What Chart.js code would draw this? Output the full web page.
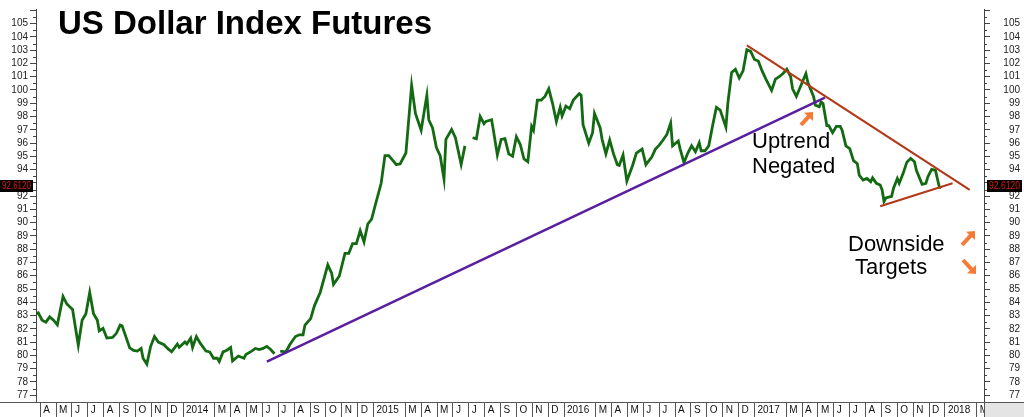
<!DOCTYPE html>
<html>
<head>
<meta charset="utf-8">
<script src="https://cdn.jsdelivr.net/npm/chart.js@4.4.1/dist/chart.umd.min.js"></script>
<style>
  html, body { margin: 0; padding: 0; background: #fff; }
  #wrap { width: 1024px; height: 417px; position: relative; }
</style>
</head>
<body>
<div id="wrap"><canvas id="dxChart"></canvas></div>
<script>
// weekly-ish closes, x as decimal year (null = gap in the feed)
const dates = [
  2013.23, 2013.24, 2013.26, 2013.28, 2013.30, 2013.32, 2013.34, 2013.37, 2013.39, 2013.42,
  2013.45, 2013.47, 2013.49, 2013.51, 2013.53, 2013.55, 2013.56, 2013.58, 2013.60, 2013.63,
  2013.65, 2013.67, 2013.68, 2013.72, 2013.74, 2013.76, 2013.78, 2013.79, 2013.81, 2013.83,
  2013.85, 2013.87, 2013.90, 2013.92, 2013.94, 2013.97, 2013.98, 2014.01, 2014.02, 2014.04,
  2014.05, 2014.07, 2014.09, 2014.12, 2014.14, 2014.16, 2014.18, 2014.19, 2014.21, 2014.23,
  2014.25, 2014.26, 2014.29, 2014.32, 2014.33, 2014.36, 2014.38, 2014.40, 2014.42, 2014.44,
  2014.46, 2014.48, 2014.495, 2014.51, 2014.54, 2014.56, 2014.59, 2014.61, 2014.63, 2014.64,
  2014.67, 2014.69, 2014.72, 2014.76, 2014.78, 2014.79, 2014.82, 2014.85, 2014.87, 2014.89,
  2014.91, 2014.93, 2014.95, 2014.97, 2014.99, 2015.01, 2015.04, 2015.06, 2015.08, 2015.12,
  2015.14, 2015.17, 2015.20, 2015.22, 2015.25, 2015.28, 2015.29, 2015.31, 2015.33, 2015.35,
  2015.37, 2015.38, 2015.41, 2015.43, 2015.46, 2015.48, 2015.50, 2015.52, 2015.54, 2015.56,
  2015.58, 2015.59, 2015.62, 2015.63, 2015.65, 2015.67, 2015.69, 2015.71, 2015.73, 2015.75,
  2015.77, 2015.79, 2015.81, 2015.83, 2015.84, 2015.86, 2015.88, 2015.90, 2015.92, 2015.94,
  2015.96, 2015.98, 2015.99, 2016.01, 2016.03, 2016.05, 2016.08, 2016.09, 2016.10, 2016.13,
  2016.15, 2016.16, 2016.19, 2016.20, 2016.22, 2016.24, 2016.26, 2016.28, 2016.29, 2016.31,
  2016.33, 2016.36, 2016.38, 2016.41, 2016.43, 2016.44, 2016.46, 2016.48, 2016.50, 2016.52,
  2016.54, 2016.56, 2016.57, 2016.60, 2016.61, 2016.63, 2016.65, 2016.67, 2016.69, 2016.71,
  2016.72, 2016.74, 2016.76, 2016.78, 2016.80, 2016.82, 2016.85, 2016.86, 2016.88, 2016.90,
  2016.92, 2016.94, 2016.96, 2016.98, 2017.00, 2017.02, 2017.04, 2017.06, 2017.09, 2017.11,
  2017.13, 2017.15, 2017.17, 2017.19, 2017.20, 2017.22, 2017.24, 2017.27, 2017.28, 2017.31,
  2017.32, 2017.34, 2017.35, 2017.36, 2017.38, 2017.39, 2017.41, 2017.43, 2017.45, 2017.46,
  2017.48, 2017.50, 2017.52, 2017.54, 2017.55, 2017.57, 2017.59, 2017.61, 2017.62, 2017.64,
  2017.66, 2017.67, 2017.68, 2017.69, 2017.72, 2017.73, 2017.75, 2017.76, 2017.78, 2017.80,
  2017.82, 2017.84, 2017.85, 2017.88, 2017.90, 2017.91, 2017.93, 2017.95, 2017.96, 2017.97,
  2017.98
];
const prices = [
  83.14, 83.2, 82.65, 82.5, 82.9, 82.65, 82.3, 84.44, 83.87, 83.46,
  80.76, 82.65, 83.14, 84.74, 83.14, 82.65, 81.84, 82.03, 81.3, 81.35,
  81.66, 82.28, 82.23, 80.56, 80.37, 80.32, 80.52, 79.78, 79.34, 80.68,
  81.42, 81.0, 80.8, 80.5, 80.27, 80.85, 80.6, 81.0, 80.85, 81.3,
  80.6, 81.42, 80.92, 80.32, 80.26, 79.78, 79.78, 79.53, 80.26, 80.39,
  80.6, 79.58, 79.95, 79.78, 80.07, 80.32, 80.52, 80.44, 80.52, 80.68,
  80.44, 80.12, null, 80.32, 80.26, 80.8, 81.42, 81.55, 81.55, 82.28,
  82.77, 83.75, 84.74, 86.82, 86.2, 85.35, 85.96, 87.68, 87.68, 88.42,
  88.42, 89.4, 88.55, 89.9, 90.26, 91.37, 92.97, 95.05, 95.05, 94.37,
  94.44, 95.25, 100.34, 98.24, 96.97, 99.6, 97.76, 97.14, 95.66, 95.05,
  93.28, 96.28, 97.02, 96.4, 94.39, 95.79, null, 96.4, 96.33, 98.0,
  97.46, 97.63, 97.76, 96.9, 95.1, 96.28, 96.33, 95.18, 95.0, 96.48,
  95.91, 94.8, 94.6, 97.26, 96.97, 99.23, 99.23, 99.52, 100.09, 98.98,
  97.63, 98.69, 98.05, 98.78, 98.6, 99.27, 99.72, 99.6, 97.39, 95.99,
  96.78, 98.24, 97.14, 96.28, 95.18, 96.23, 95.18, 94.37, 94.31, 95.1,
  93.14, 94.31, 95.25, 95.55, 94.37, 94.56, 94.93, 95.55, 95.84, 96.23,
  96.65, 97.51, 95.79, 96.16, 95.55, 94.52, 95.25, 95.79, 95.35, 96.03,
  95.42, 95.42, 95.79, 97.3, 98.69, 98.49, 97.21, 98.98, 101.32, 101.56,
  100.9, 101.44, 103.03, 102.91, 102.3, 102.18, 101.44, 100.82, 99.97, 100.82,
  101.0, 101.24, 101.56, 101.0, 100.09, 99.52, 100.21, 101.24, 100.58, 99.52,
  98.86, 98.74, 99.1, 98.98, 97.31, 97.31, 96.78, 97.26, 97.26, 96.97,
  95.79, 95.59, 94.68, 94.44, 93.58, 93.21, 93.33, 93.09, 93.38, 92.97,
  92.84, 92.47, 91.61, 91.86, 91.98, 92.6, 93.33, 92.97, 93.7, 94.56,
  94.85, 94.6, 93.95, 92.89, 92.97, 93.45, 94.02, 93.95, 93.33, 92.71,
  92.61
];

// drawn trendlines
const uptrendDates = [2014.44, 2017.37];
const uptrendValues = [79.53, 99.42];
const upperDates = [2016.96, 2018.13];
const upperValues = [103.36, 92.47];
const lowerDates = [2017.66, 2018.04];
const lowerValues = [91.24, 92.97];

const lastPrice = 92.612;
const lastPriceLabel = '92.6120';

const yTicks = [77, 78, 79, 80, 81, 82, 83, 84, 85, 86, 87, 88, 89, 90, 91,
  92, 93, 94, 95, 96, 97, 98, 99, 100, 101, 102, 103, 104, 105, 106];
const monthLetters = ['J', 'F', 'M', 'A', 'M', 'J', 'J', 'A', 'S', 'O', 'N', 'D'];
const years = [2013, 2014, 2015, 2016, 2017, 2018];

const xMin = 2013.228, xMax = 2018.205;
const yMin = 76.484, yMax = 106.105;

// month boundaries for the date strip (feb has no box)
const monthTicks = [];
years.forEach(yr => {
  for (let m = 0; m < 12; m++) {
    const v = yr + m / 12;
    if (m !== 1 && v >= xMin && v <= xMax) monthTicks.push(v);
  }
});

const FONT = "'Liberation Sans', Arial, sans-serif";

function pair(xs, ys) {
  return xs.map((d, i) => ({ x: d, y: ys[i] }));
}

// hide the tick label sitting under the price tag, and the clipped top one
function priceLabel(v) {
  if (v > 105) return '';
  if (v > lastPrice && v - lastPrice < 0.6) return '';
  return String(v);
}

function arrow(ctx, x0, y0, x1, y1) {
  const ang = Math.atan2(y1 - y0, x1 - x0);
  const head = 9;
  ctx.strokeStyle = '#f47a36';
  ctx.fillStyle = '#f47a36';
  ctx.lineWidth = 4;
  ctx.lineCap = 'butt';
  ctx.beginPath();
  ctx.moveTo(x0, y0);
  ctx.lineTo(x1 - Math.cos(ang) * head * 0.6, y1 - Math.sin(ang) * head * 0.6);
  ctx.stroke();
  ctx.beginPath();
  ctx.moveTo(x1, y1);
  ctx.lineTo(x1 - head * Math.cos(ang - 0.75), y1 - head * Math.sin(ang - 0.75));
  ctx.lineTo(x1 - head * Math.cos(ang + 0.75), y1 - head * Math.sin(ang + 0.75));
  ctx.closePath();
  ctx.fill();
}

const overlay = {
  id: 'overlay',
  afterDraw(chart) {
    const { ctx, chartArea: a } = chart;
    const y = chart.scales.y;
    ctx.save();

    // half-point ticks
    ctx.strokeStyle = '#444';
    ctx.lineWidth = 1;
    ctx.beginPath();
    for (let v = 76.5; v < yMax; v += 1) {
      const py = Math.round(y.getPixelForValue(v)) + 0.5;
      ctx.moveTo(a.left - 3, py); ctx.lineTo(a.left, py);
      ctx.moveTo(a.right, py); ctx.lineTo(a.right + 3, py);
    }
    ctx.stroke();

    // date strip frame
    ctx.fillStyle = '#e4e4e4';
    ctx.fillRect(a.right + 1, a.bottom + 1, chart.width - a.right, chart.height - a.bottom);
    ctx.strokeStyle = '#555';
    ctx.beginPath();
    ctx.moveTo(0, a.bottom + 0.5); ctx.lineTo(chart.width, a.bottom + 0.5);
    ctx.moveTo(a.right + 0.5, a.bottom); ctx.lineTo(a.right + 0.5, chart.height);
    ctx.stroke();

    // title + notes
    ctx.fillStyle = '#000';
    ctx.textBaseline = 'alphabetic';
    ctx.textAlign = 'left';
    ctx.font = 'bold 33px ' + FONT;
    ctx.fillText('US Dollar Index Futures', 58, 34);
    ctx.font = '22px ' + FONT;
    ctx.fillText('Uptrend', 752, 148);
    ctx.fillText('Negated', 752, 173);
    ctx.fillText('Downside', 848, 251);
    ctx.fillText('Targets', 855, 274);

    arrow(ctx, 801, 125, 813, 112);
    arrow(ctx, 962, 245, 975, 231);
    arrow(ctx, 963, 260, 976, 274);

    // last price tags
    const py = Math.round(y.getPixelForValue(lastPrice)) - 2;
    ctx.fillStyle = '#000';
    ctx.fillRect(0, py - 6, 33, 12);
    ctx.fillRect(a.right + 3, py - 6, 35, 12);
    ctx.fillStyle = '#e01818';
    ctx.font = '10px ' + FONT;
    ctx.textBaseline = 'middle';
    ctx.fillText(lastPriceLabel, 2, py + 0.5, 29);
    ctx.fillText(lastPriceLabel, a.right + 5, py + 0.5, 31);

    ctx.restore();
  }
};

const tickFont = { family: FONT, size: 10 };

new Chart(document.getElementById('dxChart'), {
  type: 'line',
  data: {
    datasets: [
      { label: 'Uptrend', data: pair(uptrendDates, uptrendValues), borderColor: '#5a1f9e', borderWidth: 2.5, pointRadius: 0, order: 1 },
      { label: 'Upper', data: pair(upperDates, upperValues), borderColor: '#b23a18', borderWidth: 2.2, pointRadius: 0, order: 1 },
      { label: 'Lower', data: pair(lowerDates, lowerValues), borderColor: '#b23a18', borderWidth: 2.2, pointRadius: 0, order: 1 },
      { label: 'DX', data: pair(dates, prices), borderColor: '#136a12', borderWidth: 2.8, pointRadius: 0, spanGaps: false, tension: 0, order: 2 }
    ]
  },
  options: {
    responsive: true,
    maintainAspectRatio: false,
    animation: false,
    layout: { autoPadding: false, padding: { right: 4 } },
    plugins: { legend: { display: false }, tooltip: { enabled: false } },
    scales: {
      x: {
        type: 'linear',
        min: xMin,
        max: xMax,
        afterFit(s) { s.height = 15; },
        afterBuildTicks(s) { s.ticks = monthTicks.map(v => ({ value: v })); },
        grid: { drawOnChartArea: false, tickLength: 15, color: '#555' },
        border: { display: true, color: '#555' },
        ticks: {
          autoSkip: false,
          maxRotation: 0,
          align: 'start',
          labelOffset: 3,
          padding: -13,
          color: '#111',
          font: tickFont,
          callback(v) {
            const yr = Math.floor(v + 1e-6);
            const m = Math.round((v - yr) * 12);
            return m === 0 ? String(yr) : monthLetters[m];
          }
        }
      },
      y: {
        position: 'left',
        min: yMin,
        max: yMax,
        afterFit(s) { s.width = 36; },
        afterBuildTicks(s) { s.ticks = yTicks.map(v => ({ value: v })); },
        grid: { drawOnChartArea: false, tickLength: 6, color: '#444' },
        border: { color: '#444' },
        ticks: { autoSkip: false, padding: 2, color: '#222', font: tickFont, callback: priceLabel }
      },
      y2: {
        position: 'right',
        min: yMin,
        max: yMax,
        afterFit(s) { s.width = 36; },
        afterBuildTicks(s) { s.ticks = yTicks.map(v => ({ value: v })); },
        grid: { drawOnChartArea: false, tickLength: 6, color: '#444' },
        border: { color: '#444' },
        ticks: { autoSkip: false, crossAlign: 'far', color: '#222', font: tickFont, callback: priceLabel }
      }
    }
  },
  plugins: [overlay]
});
</script>
</body>
</html>
